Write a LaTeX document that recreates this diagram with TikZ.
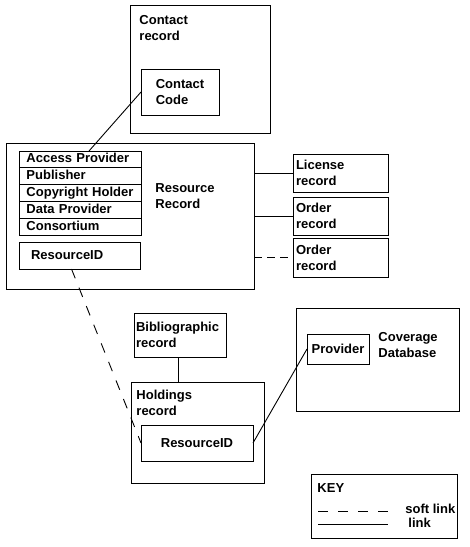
\documentclass[tikz,border=0pt]{standalone}
\usepackage{fontspec}
\setmainfont{Liberation Sans}
\usetikzlibrary{positioning}

\begin{document}
\begin{tikzpicture}[x=1pt, y=-1pt, node distance=0pt, line width=0.9pt,
      font=\bfseries\fontsize{13}{16}\selectfont,
      rec/.style  = {draw, inner sep=0pt, outer sep=0pt},
      row/.style  = {rec, align=left, text width=107pt, inner xsep=7.5pt,
                     minimum height=16.8pt, text height=9.4pt, text depth=2.6pt},
      side/.style = {rec, align=left, text width=89pt, inner xsep=3pt},
      lbl/.style  = {inner sep=0pt, align=left, anchor=north west},
      soft/.style = {dash pattern=on 10pt off 10pt} ]

\useasboundingbox (0,0) rectangle (470,547);

% contact record
\node (contact) [rec, minimum width=140pt, minimum height=128pt] at (200,69) {};
\node (contactlbl) [lbl] at ([shift={(9,10)}]contact.north west) {Contact\\record};
\node (ccode) [rec, align=left, minimum width=78pt, minimum height=46pt] at (180,92)
{Contact\\Code};

% resource record
\node (res) [rec, minimum width=248pt, minimum height=146pt] at (130,216) {};
\node (ap)   [row] at (80,159.4) {Access Provider};
\node (pub)  [row, below=of ap]   {Publisher};
\node (copy) [row, below=of pub]  {Copyright Holder};
\node (dp)   [row, below=of copy] {Data Provider};
\node (cons) [row, below=of dp]   {Consortium};
\node (reslbl) [lbl] at ([shift={(149,40)}]res.north west) {Resource\\Record};
\node (rid) [rec, align=left, text width=97pt, inner xsep=12pt, minimum height=27pt]
      at (79.5,255.5) {ResourceID};

% side records
\node (lic)  [side, minimum height=38pt] at (340.5,173)   {License\\record};
\node (ord)  [side, minimum height=38pt] at (340.5,216)   {Order\\record};
\node (ord2) [side, minimum height=39pt] at (340.5,257.5) {Order\\record};

% holdings
\node (bib) [rec, align=left, text width=88pt, inner xsep=2pt, minimum height=44pt]
      at (180,335) {Bibliographic\\record};
\node (hold) [rec, minimum width=133pt, minimum height=101pt] at (197.5,432.5) {};
\node (holdlbl) [lbl] at ([shift={(5,8)}]hold.north west) {Holdings\\record};
\node (hrid) [rec, minimum width=112pt, minimum height=36pt] at (197,443) {ResourceID};

% coverage
\node (cov) [rec, minimum width=163pt, minimum height=103pt] at (377.5,359.5) {};
\node (covlbl) [lbl] at ([shift={(82,24)}]cov.north west) {Coverage\\Database};
\node (prov) [rec, minimum width=62pt, minimum height=30pt] at (338,349) {Provider};

% key
\node (key) [rec, minimum width=146pt, minimum height=64pt] at (384,506) {};
\node (keylbl) [lbl] at ([shift={(6,9)}]key.north west) {KEY};
\coordinate (s1) at (318,511);  \coordinate (s2) at (388,511);
\coordinate (l1) at (318,524);  \coordinate (l2) at (388,524);
\node (softlbl) [inner sep=0pt, anchor=west] at (405,509) {soft link};
\node (linklbl) [inner sep=0pt, anchor=west] at (408,523) {link};

% links
\draw (ccode.west) -- ([xshift=9pt]ap.north);
\draw (lic.west) -- (lic.west -| res.east);
\draw (ord.west) -- (ord.west -| res.east);
\draw [soft, dash pattern=on 8pt off 5pt] (ord2.west -| res.east) -- (ord2.west);
\draw [soft] ([xshift=-8pt]rid.south) -- (hrid.west);
\draw ([xshift=-2pt]bib.south) -- ([xshift=-2pt]bib.south |- hold.north);
\draw (hrid.east) -- (prov.west);
\draw [soft] (s1) -- (s2);
\draw (l1) -- (l2);
\end{tikzpicture}
\end{document}
